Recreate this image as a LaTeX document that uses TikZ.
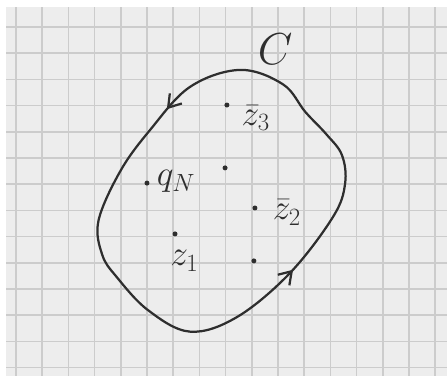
\RequirePackage{fix-cm}
\documentclass[tikz,border=0pt]{standalone}
\usepackage{amsmath,amssymb}
\usepackage{tikz}
\usepackage{xcolor}
\usetikzlibrary{arrows.meta,decorations.markings}
\definecolor{Paper}{HTML}{EDEDED}
\definecolor{GridGray}{HTML}{CCCCCC}
\definecolor{Pencil}{HTML}{2E2E2E}

\begin{document}
\begin{tikzpicture}[>={Straight Barb[length=3.2mm,width=4.2mm]}, scale=0.7,
    dot/.style={circle, fill=Pencil, inner sep=0pt, minimum size=3.8pt},
    lbl/.style={Pencil, font=\fontsize{27}{32}\selectfont}]
    \useasboundingbox (0,0) rectangle (17.061,14.618);

    % Grid paper
    \fill[white] (0,0) rectangle (17.061,14.618);
    \fill[Paper] (0.23,0.27) rectangle (17.061,14.35);
    \begin{scope}[shift={(0.611,0.588)}]
        \draw[GridGray, line width=1.1pt] (-0.381,-0.318) grid (16.45,13.76);
    \end{scope}

    % Contour C (counterclockwise)
    \draw[Pencil, line width=1.7pt, postaction={decorate},
        decoration={markings, mark=at position 0.042 with {\arrow{>}},
                              mark=at position 0.578 with {\arrow{>}}}]
        plot[smooth cycle, tension=0.6] coordinates {(9.16,11.95) (7.25,11.30)
        (5.73,9.66) (4.60,8.10) (3.76,6.20) (3.90,4.90) (4.45,4.05)
        (5.65,2.78) (7.25,1.96) (9.05,2.52) (11.07,4.20) (12.71,6.34)
        (13.17,7.60) (13.05,8.70) (12.45,9.50) (11.65,10.35) (10.80,11.40)};
    \node[Pencil, font=\fontsize{34}{40}\selectfont] (Clab) at (10.50,12.75) {$C$};

    % Points inside C
    \node[dot] (z3) at (8.66,10.61) {};
    \node[dot] (mid) at (8.59,8.21) {};
    \node[dot] (qN) at (5.61,7.63) {};
    \node[dot] (z2) at (9.73,6.68) {};
    \node[dot] (low) at (9.69,4.66) {};
    \node[dot] (z1) at (6.68,5.69) {};

    % Labels
    \node[lbl] (z3lab) at (9.76,10.12) {$\bar{z}_3$};
    \node[lbl] (qNlab) at (6.72,7.68) {$q_N$};
    \node[lbl] (z2lab) at (10.95,6.50) {$\bar{z}_2$};
    \node[lbl] (z1lab) at (7.04,4.66) {$z_1$};

\end{tikzpicture}
\end{document}
